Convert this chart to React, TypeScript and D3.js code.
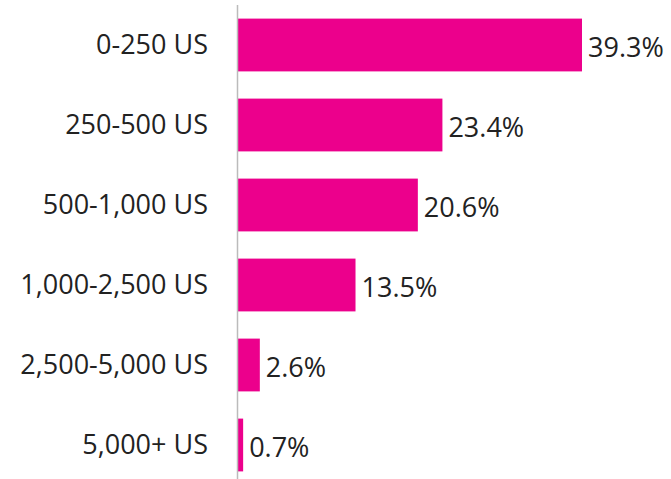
import React from "react";
import * as d3 from "d3";

const categories = ["0-250 US", "250-500 US", "500-1,000 US", "1,000-2,500 US", "2,500-5,000 US", "5,000+ US"];
const values = [39.3, 23.4, 20.6, 13.5, 2.6, 0.7];

const W = 671;
const H = 479;
const x0 = 237;

export default function App() {
  const x = d3.scaleLinear().domain([0, 39.3]).range([x0, 582]);
  const y = d3.scaleBand<string>().domain(categories).range([5, 485]).paddingInner(0.34).paddingOuter(0.17);
  const font = "'Open Sans', sans-serif";
  return (
    <svg width={W} height={H} style={{ position: "absolute", left: 0, top: 0, display: "block" }}>
      {categories.map((c, i) => (
        <g key={c}>
          <rect x={x(0)} y={y(c)!} width={x(values[i]) - x(0)} height={y.bandwidth()} fill="#EC008C" />
          <text x={208} y={y(c)! + y.bandwidth() / 2 + 9} textAnchor="end" fontFamily={font} fontSize={27} fill="#222">
            {c}
          </text>
          <text x={x(values[i]) + 6} y={y(c)! + y.bandwidth() / 2 + 11.5} textAnchor="start" fontFamily={font} fontSize={27} fill="#222">
            {values[i].toFixed(1)}%
          </text>
        </g>
      ))}
      <line x1={x0 + 0.5} x2={x0 + 0.5} y1={5} y2={485} stroke="#bbb" strokeWidth={1.5} />
    </svg>
  );
}
